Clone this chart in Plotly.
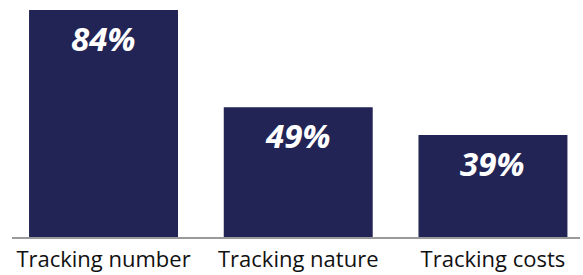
import plotly.graph_objects as go

categories = ["Tracking number", "Tracking nature", "Tracking costs"]
values = [84, 49, 39]
labels = ["84%", "49%", "39%"]

BAR_COLOR = "#222455"

fig = go.Figure()
fig.add_trace(go.Bar(
    x=categories, y=values, width=0.765,
    marker=dict(color=BAR_COLOR, line=dict(width=0)),
    hoverinfo="skip",
))

for c, v, t in zip(categories, values, labels):
    fig.add_annotation(
        x=c, y=v, text=t, showarrow=False, yanchor="middle", yshift=-28,
        font=dict(family="Open Sans", size=33, color="white", weight="bold", style="italic"),
    )

fig.update_layout(
    width=583, height=275,
    margin=dict(l=12, r=3, t=10, b=38, autoexpand=False),
    paper_bgcolor="white", plot_bgcolor="white",
    showlegend=False,
    xaxis=dict(
        range=[-0.47, 2.447], showgrid=False, zeroline=False, automargin=False,
        showline=True, linecolor="#9a9a9a", linewidth=1.5,
        ticks="", ticklabelstandoff=2,
        tickfont=dict(family="Open Sans", size=22, color="#111111"),
    ),
    yaxis=dict(range=[2.3, 84], visible=False, showgrid=False, zeroline=False, automargin=False),
)

fig.write_html(
    "out.html",
    config={"displayModeBar": False},
    post_script="document.body.style.margin='0';document.body.style.overflow='hidden';",
)
